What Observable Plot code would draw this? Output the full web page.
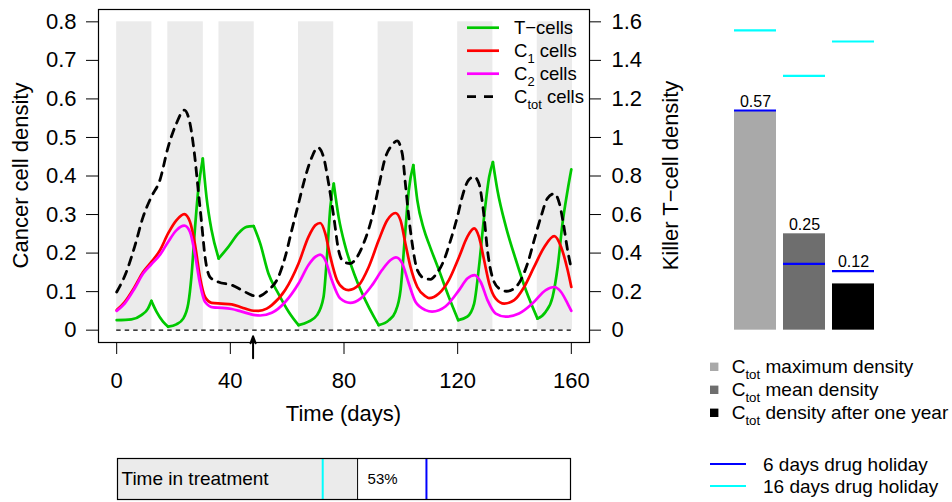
<!DOCTYPE html>
<html>
<head>
<meta charset="utf-8">
<script src="https://cdn.jsdelivr.net/npm/d3@7"></script>
<script src="https://cdn.jsdelivr.net/npm/@observablehq/plot@0.6"></script>
<style>
  body { margin: 0; background: #fff; }
  #wrap { position: relative; width: 952px; height: 502px; overflow: hidden; background: #fff;
          font-family: "Liberation Sans", Arial, sans-serif; }
  #wrap > svg { position: absolute; overflow: visible; }
</style>
</head>
<body>
<div id="wrap"></div>
<script>
// ---- Simulation output (days, densities) ----
// Treatment windows (drug on), in days
const treatStart = [0, 18, 36, 64, 92, 120, 148];
const treatEnd   = [12.4, 30.5, 48.4, 76.4, 104.4, 132.4, 160.4];

// Killer T-cells (right axis units)
const tDay = [0, 5.2, 8.7, 11, 12.2, 14, 16.3, 18.1, 21, 23.4, 25.2, 26.3, 27.5, 28.7, 30.3, 31.6, 33.4, 35.9,
  39.3, 42.8, 45.7, 48.2, 50.5, 53.4, 56.9, 60.5, 64, 67.5, 70.5, 72.8, 74, 75.2, 76.4, 78.1, 80.5, 84, 87.5,
  90.5, 92.2, 95.8, 98.1, 99.9, 101.6, 102.8, 104.4, 105.8, 108.1, 110, 113.4, 116.9, 120.2, 123.4, 125.8,
  127.5, 129.3, 131.1, 132.4, 134, 137, 140.5, 144, 148.1, 151, 153.4, 155.2, 156.9, 158.7, 160];
const tVal = [0.052, 0.056, 0.078, 0.112, 0.152, 0.096, 0.044, 0.018, 0.03, 0.06, 0.138, 0.276, 0.518, 0.726, 0.89,
  0.692, 0.518, 0.372, 0.432, 0.502, 0.536, 0.54, 0.45, 0.294, 0.19, 0.096, 0.026, 0.044, 0.078, 0.172, 0.38,
  0.64, 0.76, 0.588, 0.432, 0.276, 0.156, 0.07, 0.026, 0.052, 0.096, 0.208, 0.518, 0.726, 0.856, 0.674, 0.524,
  0.444, 0.312, 0.172, 0.052, 0.07, 0.138, 0.328, 0.588, 0.796, 0.872, 0.726, 0.536, 0.364, 0.208, 0.06, 0.096,
  0.172, 0.328, 0.554, 0.726, 0.834];

// C1 cancer cells
const c1Day = [0, 2.8, 6.3, 9.3, 12.2, 15.2, 18.1, 21, 23.8, 25.8, 27.5, 29.3, 31.1, 33.4, 36.9, 40.5, 44, 47.5,
  49.9, 52.8, 54.6, 59.3, 64, 67.5, 69.9, 71.6, 73.4, 75.2, 77.5, 79.9, 81.6, 85.2, 88.7, 92.2, 95.2, 98.1,
  99.9, 101.6, 103.4, 105.8, 108.7, 109.9, 113.4, 116.9, 120.5, 123.4, 125.8, 127.5, 129.3, 131.1, 133.4,
  136.4, 139.9, 143.4, 146.9, 150.5, 154, 156.4, 158.7, 160];
const c1Val = [0.052, 0.073, 0.112, 0.151, 0.177, 0.207, 0.251, 0.285, 0.301, 0.281, 0.225, 0.138, 0.086, 0.071,
  0.069, 0.067, 0.059, 0.051, 0.05, 0.056, 0.065, 0.104, 0.173, 0.242, 0.272, 0.278, 0.251, 0.19, 0.13, 0.108,
  0.104, 0.117, 0.164, 0.233, 0.285, 0.304, 0.285, 0.225, 0.164, 0.112, 0.088, 0.083, 0.095, 0.13, 0.19, 0.242,
  0.264, 0.242, 0.182, 0.121, 0.082, 0.069, 0.078, 0.112, 0.164, 0.216, 0.244, 0.216, 0.156, 0.112];

// C2 cancer cells
const c2Day = [0, 2.8, 6.3, 9.3, 12.2, 15.2, 18.1, 21, 23.8, 25.8, 27.5, 29.3, 31.1, 34, 36.9, 40.5, 44, 48.7,
  50.5, 54.6, 59.3, 64, 67.5, 69.9, 71.6, 73.4, 75.7, 78.7, 82.2, 85.8, 89.9, 93.4, 96.4, 98.3, 100.5, 102.8,
  105.2, 108.7, 111, 115.8, 120.5, 123.4, 126, 128.1, 130.5, 133.4, 136.9, 141.6, 146.3, 151, 154, 156.4,
  158.7, 160];
const c2Val = [0.05, 0.069, 0.108, 0.147, 0.171, 0.195, 0.229, 0.259, 0.271, 0.255, 0.199, 0.121, 0.073, 0.059,
  0.058, 0.055, 0.048, 0.039, 0.038, 0.045, 0.073, 0.121, 0.169, 0.19, 0.196, 0.182, 0.13, 0.082, 0.071, 0.082,
  0.117, 0.156, 0.182, 0.189, 0.173, 0.121, 0.073, 0.052, 0.048, 0.062, 0.104, 0.134, 0.143, 0.125, 0.078,
  0.043, 0.035, 0.043, 0.069, 0.104, 0.112, 0.099, 0.069, 0.05];

// Total cancer cells
const ctotDay = [0, 3.4, 6.3, 9.3, 12.2, 15.2, 18.1, 21, 23.8, 25.8, 27.5, 28.7, 29.9, 31.1, 32.8, 35.8, 40.5,
  44, 47.5, 49.5, 53.4, 56.9, 59.3, 61.6, 64, 66.4, 68.7, 70.8, 72.8, 74.6, 76.4, 78.1, 79.9, 82.2, 84.6,
  86.9, 89.9, 92.2, 94.6, 96.9, 98.7, 100.5, 101.6, 102.8, 104, 105.8, 108.4, 110.5, 112.2, 115.2, 117.5,
  119.9, 121.6, 123.8, 125.8, 127.5, 129.3, 130.5, 132.2, 134.6, 137.2, 139.9, 142.2, 144.6, 146.9, 149.3,
  151.6, 154, 155.8, 157.2, 158.7, 160];
const ctotVal = [0.099, 0.151, 0.216, 0.294, 0.346, 0.389, 0.475, 0.536, 0.571, 0.536, 0.449, 0.363, 0.277, 0.19,
  0.138, 0.125, 0.117, 0.104, 0.091, 0.087, 0.104, 0.138, 0.19, 0.259, 0.329, 0.398, 0.449, 0.474, 0.449,
  0.38, 0.294, 0.207, 0.177, 0.173, 0.19, 0.225, 0.294, 0.372, 0.449, 0.48, 0.491, 0.458, 0.38, 0.294, 0.225,
  0.156, 0.134, 0.132, 0.143, 0.182, 0.233, 0.294, 0.346, 0.389, 0.398, 0.38, 0.294, 0.207, 0.138, 0.108,
  0.101, 0.108, 0.13, 0.173, 0.233, 0.294, 0.342, 0.354, 0.329, 0.277, 0.207, 0.16];

// Day of the marked event on the time axis
const arrowDay = 48;

// Axis ticks
const xTicks = [0, 40, 80, 120, 160];
const leftTicks = [0, 0.1, 0.2, 0.3, 0.4, 0.5, 0.6, 0.7, 0.8];
const rightTicks = [0, 0.2, 0.4, 0.6, 0.8, 1, 1.2, 1.4, 1.6];

// Summary bars: total cancer density
const barCats = ["max", "mean", "year"];
const barValues = [0.57, 0.25, 0.12];
const holiday6 = [0.57, 0.172, 0.153];
const holiday16 = [0.778, 0.66, 0.749];
const barFill = ["#a9a9a9", "#6e6e6e", "#000000"];

// Share of time spent under treatment (%)
const treatShare = 53;
const share6 = 68.2;
const share16 = 45.3;

// ---- build ----
const FONT = "Liberation Sans, Arial, sans-serif";
const fmt = d => String(Math.round(d * 10) / 10);
const series = (days, vals) => days.map((d, i) => ({day: d, value: vals[i]}));
const periods = treatStart.map((s, i) => ({start: s, end: treatEnd[i]}));
const bandTop = d3.max(leftTicks);

// T-cell trajectory has sharp turns at the switching points: split it at each
// local extremum so every piece is smoothed on its own and the corners stay sharp.
const tPts = series(tDay, tVal);
const tSegs = [];
let segId = 0;
tPts.forEach((p, i) => {
  tSegs.push({...p, seg: segId});
  if (i > 0 && i < tPts.length - 1) {
    const a = p.value - tPts[i - 1].value, b = tPts[i + 1].value - p.value;
    if (a * b < 0) { segId++; tSegs.push({...p, seg: segId}); }
  }
});

const wrap = d3.select("#wrap");

const main = Plot.plot({
  width: 700, height: 430,
  marginLeft: 98, marginRight: 111, marginTop: 9, marginBottom: 88,
  style: {fontFamily: FONT, color: "#000", background: "transparent"},
  x: {domain: [-6.4, 166.4]},
  y: {domain: [-0.032, 0.832]},
  marks: [
    Plot.rectY(periods, {x1: "start", x2: "end", y1: 0, y2: bandTop, fill: "#ebebeb"}),
    Plot.ruleY([0], {x1: xTicks[0], x2: xTicks[xTicks.length - 1], stroke: "#000", strokeWidth: 1.3, strokeDasharray: "4.5,4"}),
    Plot.line(tSegs, {x: "day", y: d => d.value / 2, z: "seg", stroke: "#00c800", strokeWidth: 2.7, curve: "monotone-x"}),
    Plot.line(series(c1Day, c1Val), {x: "day", y: "value", stroke: "#ff0000", strokeWidth: 2.7, curve: "monotone-x"}),
    Plot.line(series(c2Day, c2Val), {x: "day", y: "value", stroke: "#ff00ff", strokeWidth: 2.7, curve: "monotone-x"}),
    Plot.line(series(ctotDay, ctotVal), {x: "day", y: "value", stroke: "#000", strokeWidth: 2.8, strokeDasharray: "8,7", curve: "monotone-x"}),
    Plot.frame({stroke: "#000", strokeWidth: 1.2}),
    Plot.axisX(xTicks, {tickSize: 12, tickPadding: 18, fontSize: 22, label: null, tickFormat: d => String(d)}),
    Plot.axisY(leftTicks, {anchor: "left", tickSize: 12, tickPadding: 10, fontSize: 22, label: null, tickFormat: fmt}),
    Plot.axisY(rightTicks.map(v => v / 2), {anchor: "right", tickSize: 11, tickPadding: 11, fontSize: 22, label: null, tickFormat: d => fmt(d * 2)}),
    Plot.arrow([arrowDay], {x1: d => d, x2: d => d, y1: -0.073, y2: -0.016, stroke: "#000", strokeWidth: 2, headLength: 10, headAngle: 40})
  ]
});
main.style.left = "0px"; main.style.top = "0px";
wrap.node().appendChild(main);

// text with optional subscript parts
function richText(sel, x, y, parts, size, anchor = "start") {
  const t = sel.append("text").attr("x", x).attr("y", y)
    .attr("font-family", FONT).attr("font-size", size).attr("fill", "#000").attr("text-anchor", anchor);
  let shifted = false;
  parts.forEach(([s, sub]) => {
    const ts = t.append("tspan").text(s);
    if (sub) { ts.attr("font-size", size * 0.7).attr("dy", size * 0.3); shifted = true; }
    else if (shifted) { ts.attr("dy", -size * 0.3); shifted = false; }
  });
  return t;
}

const ms = d3.select(main);
ms.append("text").attr("transform", "translate(20,175.5) rotate(-90)").attr("text-anchor", "middle")
  .attr("dominant-baseline", "central").attr("font-family", FONT).attr("font-size", 22).text("Cancer cell density");
ms.append("text").attr("transform", "translate(670,175.5) rotate(-90)").attr("text-anchor", "middle")
  .attr("dominant-baseline", "central").attr("font-family", FONT).attr("font-size", 22).text("Killer T\u2212cell density");
ms.append("text").attr("x", 343.5).attr("y", 413).attr("text-anchor", "middle")
  .attr("dominant-baseline", "central").attr("font-family", FONT).attr("font-size", 22).text("Time (days)");

// in-plot legend
const lineLegend = [
  {parts: [["T\u2212cells"]], color: "#00c800", dash: null},
  {parts: [["C"], ["1", true], [" cells"]], color: "#ff0000", dash: null},
  {parts: [["C"], ["2", true], [" cells"]], color: "#ff00ff", dash: null},
  {parts: [["C"], ["tot", true], [" cells"]], color: "#000", dash: "9,8"}
];
lineLegend.forEach((e, i) => {
  const y = 27.7 + i * 23;
  ms.append("line").attr("x1", 467).attr("x2", 499).attr("y1", y).attr("y2", y)
    .attr("stroke", e.color).attr("stroke-width", 2.7).attr("stroke-dasharray", e.dash);
  richText(ms, 514, y + 6.5, e.parts, 18.5);
});

// ---- summary bars ----
const bars = barCats.map((c, i) => ({cat: c, value: barValues[i], h6: holiday6[i], h16: holiday16[i]}));
const side = Plot.plot({
  width: 252, height: 502,
  marginLeft: 34, marginRight: 78, marginTop: 9, marginBottom: 160,
  style: {fontFamily: FONT, color: "#000", background: "transparent"},
  x: {type: "band", domain: barCats, paddingInner: 0.15, paddingOuter: 0, axis: null},
  y: {domain: [-0.032, 0.832], axis: null},
  color: {domain: barCats, range: barFill},
  marks: [
    Plot.barY(bars, {x: "cat", y: "value", fill: "cat"}),
    Plot.tickY(bars, {x: "cat", y: "h16", stroke: "#00ffff", strokeWidth: 2.2}),
    Plot.tickY(bars, {x: "cat", y: "h6", stroke: "#0000ff", strokeWidth: 2.2}),
    Plot.text(bars, {x: "cat", y: d => Math.max(d.value, d.h6), text: d => d.value.toFixed(2), dy: -9, fontSize: 16, fill: "#000"})
  ]
});
side.style.left = "700px"; side.style.top = "0px";
wrap.node().appendChild(side);

const ss = d3.select(side);
const boxLegend = [
  [["C"], ["tot", true], [" maximum density"]],
  [["C"], ["tot", true], [" mean density"]],
  [["C"], ["tot", true], [" density after one year"]]
];
boxLegend.forEach((parts, i) => {
  const y = 366.8 + i * 23;
  ss.append("rect").attr("x", 10).attr("y", y - 4.2).attr("width", 8.4).attr("height", 8.4).attr("fill", barFill[i]);
  richText(ss, 31.7, y + 6.6, parts, 19);
});
[["6 days drug holiday", "#0000ff"], ["16 days drug holiday", "#00ffff"]].forEach(([label, col], i) => {
  const y = 464 + i * 22;
  ss.append("line").attr("x1", 10).attr("x2", 46).attr("y1", y).attr("y2", y).attr("stroke", col).attr("stroke-width", 2.2);
  richText(ss, 63, y + 7, [[label]], 19);
});

// ---- time in treatment strip ----
const strip = Plot.plot({
  width: 700, height: 62,
  marginLeft: 117, marginRight: 130, marginTop: 18, marginBottom: 3,
  style: {fontFamily: FONT, color: "#000", background: "transparent"},
  x: {domain: [0, 100], axis: null},
  y: {domain: [0, 1], axis: null},
  marks: [
    Plot.rectX([treatShare], {x1: 0, x2: d => d, y1: 0, y2: 1, fill: "#ebebeb"}),
    Plot.ruleX([treatShare], {stroke: "#000", strokeWidth: 1}),
    Plot.ruleX([share16], {stroke: "#00ffff", strokeWidth: 2}),
    Plot.ruleX([share6], {stroke: "#0000ff", strokeWidth: 2}),
    Plot.frame({stroke: "#000", strokeWidth: 1.2}),
    Plot.text(["Time in treatment"], {x: 0, y: 0.5, dx: 4, text: d => d, textAnchor: "start", fontSize: 19, fill: "#000"}),
    Plot.text([treatShare], {x: d => d, y: 0.5, dx: 10, text: d => d + "%", textAnchor: "start", fontSize: 15, fill: "#000"})
  ]
});
strip.style.left = "0px"; strip.style.top = "440px";
wrap.node().appendChild(strip);
</script>
</body>
</html>
